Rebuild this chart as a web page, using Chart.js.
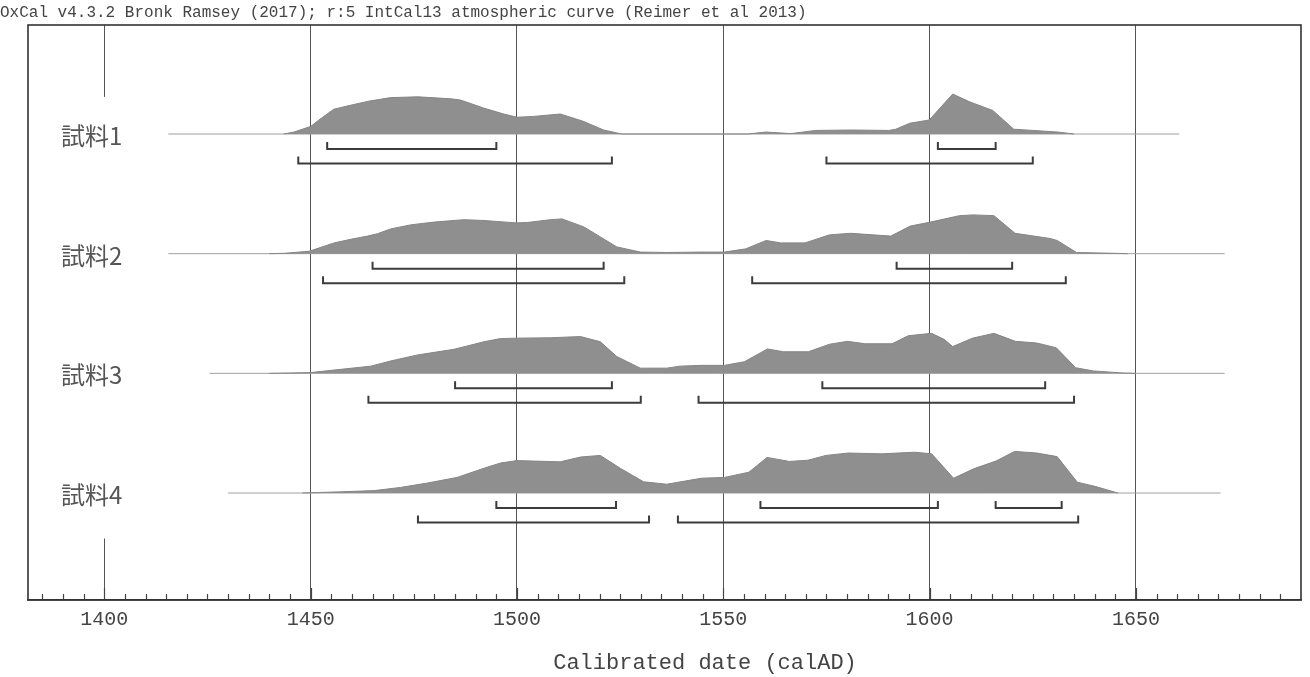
<!DOCTYPE html>
<html><head><meta charset="utf-8">
<script src="https://cdn.jsdelivr.net/npm/chart.js@4.4.0/dist/chart.umd.min.js"></script>
<style>html,body{margin:0;padding:0;background:#fff;}</style>
</head><body>
<canvas id="c" width="1310" height="677"></canvas>
<script>
// ---- data ----
const headerText = "OxCal v4.3.2 Bronk Ramsey (2017); r:5 IntCal13 atmospheric curve (Reimer et al 2013)";
const axisTitle = "Calibrated date (calAD)";
const sampleNames = ["試料1", "試料2", "試料3", "試料4"];
const tickLabels = [1400, 1450, 1500, 1550, 1600, 1650];

// extent of each thin baseline (calAD)
const span1 = [1415.5, 1660.5];
const span2 = [1415.5, 1671.5];
const span3 = [1425.5, 1671.5];
const span4 = [1430.0, 1670.5];

// relative probability [calAD, p]
const density1 = [[1443.5,0],[1446,0.05],[1450,0.19],[1452,0.35],[1455.6,0.62],[1459.7,0.72],[1464,0.82],[1469.4,0.91],[1476,0.93],[1484,0.88],[1486.3,0.85],[1491.9,0.65],[1496.8,0.5],[1500,0.42],[1504,0.44],[1510.5,0.5],[1516,0.32],[1521,0.1],[1525.4,0],[1556,0],[1560.3,0.05],[1566.4,0.01],[1572.4,0.09],[1580.9,0.1],[1590.1,0.09],[1591.8,0.12],[1595.2,0.27],[1599.9,0.35],[1605.6,1.0],[1609.8,0.8],[1615.3,0.59],[1620.4,0.12],[1625,0.09],[1631,0.05],[1635,0]];
const density2 = [[1440,0],[1443.6,0.01],[1449.6,0.06],[1455.7,0.27],[1459.7,0.36],[1463.8,0.44],[1466.2,0.5],[1469.4,0.62],[1474.2,0.72],[1479.9,0.79],[1487.1,0.85],[1492,0.83],[1499.8,0.77],[1502.5,0.78],[1508.1,0.85],[1510.9,0.87],[1516.2,0.67],[1520.2,0.42],[1524.2,0.17],[1529.9,0.04],[1536.3,0.03],[1544.4,0.04],[1550.2,0.04],[1555.4,0.12],[1560.4,0.33],[1563.9,0.27],[1569.8,0.27],[1575.7,0.47],[1580.8,0.51],[1590.6,0.44],[1595.3,0.69],[1600.2,0.79],[1607.2,0.95],[1610.5,0.97],[1615.6,0.95],[1620.7,0.51],[1629.2,0.38],[1630.9,0.33],[1635.6,0.03],[1644.5,0.01],[1648,0]];
const density3 = [[1440,0],[1445.2,0.01],[1450,0.02],[1457.3,0.1],[1464.6,0.18],[1469.4,0.31],[1475.9,0.46],[1484.7,0.6],[1492,0.79],[1496,0.87],[1500,0.88],[1508.1,0.89],[1515.4,0.92],[1520.2,0.79],[1524.2,0.42],[1529.9,0.13],[1536.3,0.13],[1539.5,0.18],[1544.7,0.2],[1550.3,0.2],[1555.1,0.29],[1560.7,0.61],[1564.6,0.54],[1570.6,0.54],[1575.8,0.73],[1580.1,0.8],[1584.4,0.74],[1590.9,0.74],[1594.8,0.94],[1600.5,1.0],[1603.5,0.85],[1605.6,0.67],[1610.4,0.88],[1615.6,1.0],[1620.8,0.8],[1625.9,0.76],[1630.7,0.64],[1635.4,0.14],[1639.7,0.06],[1646.6,0.01],[1650,0]];
const density4 = [[1448,0],[1457.3,0.03],[1465.4,0.06],[1471.8,0.14],[1478.3,0.25],[1485.5,0.39],[1492,0.62],[1496,0.75],[1500,0.81],[1510.5,0.78],[1515.4,0.9],[1520.2,0.94],[1525,0.62],[1530.7,0.28],[1536.3,0.22],[1544.7,0.37],[1550.3,0.39],[1556.2,0.52],[1560.6,0.89],[1566,0.79],[1570.5,0.82],[1574.9,0.94],[1580.3,1.0],[1588.4,0.98],[1596.4,1.02],[1600.5,0.98],[1605.8,0.37],[1610.8,0.61],[1616.1,0.8],[1620.6,1.04],[1626,1.0],[1630.9,0.91],[1635.8,0.27],[1640.3,0.16],[1645.6,0]];

// 68.2% and 95.4% ranges (calAD)
const range68_1 = [[1454,1495],[1602,1616]];
const range95_1 = [[1447,1523],[1575,1625]];
const range68_2 = [[1465,1521],[1592,1620]];
const range95_2 = [[1453,1526],[1557,1633]];
const range68_3 = [[1485,1523],[1574,1628]];
const range95_3 = [[1464,1530],[1544,1635]];
const range68_4 = [[1495,1524],[1559,1602],[1616,1632]];
const range95_4 = [[1476,1532],[1539,1636]];

// ---- build chart ----
const spans = [span1, span2, span3, span4];
const densities = [density1, density2, density3, density4];
const r68 = [range68_1, range68_2, range68_3, range68_4];
const r95 = [range95_1, range95_2, range95_3, range95_4];

const ROW_SPACING_PX = 119.67;
const rowValue = i => 4 - i;             // row 1 at top
const HEIGHT = 40 / ROW_SPACING_PX;       // p = 1 -> 40 px
const OFF68 = -15 / ROW_SPACING_PX;
const OFF95 = -29.5 / ROW_SPACING_PX;
const TICKH = 7 / ROW_SPACING_PX;

const datasets = [];
for (let i = 0; i < 4; i++) {
  const b = rowValue(i);
  datasets.push({
    data: spans[i].map(x => ({x, y: b})),
    showLine: true, borderColor: '#a0a0a0', borderWidth: 1, pointRadius: 0, order: 3, fill: false
  });
  datasets.push({
    data: densities[i].map(([x, p]) => ({x, y: b + p * HEIGHT})),
    showLine: true, borderColor: '#858585', borderWidth: 1, backgroundColor: '#8f8f8f',
    pointRadius: 0, order: 2, fill: {value: b}, tension: 0
  });
  const addBr = (rng, off) => rng.forEach(([s, e]) => {
    const y0 = b + off;
    datasets.push({
      data: [{x: s, y: y0 + TICKH}, {x: s, y: y0}, {x: e, y: y0}, {x: e, y: y0 + TICKH}],
      showLine: true, borderColor: '#3c3c3c', borderWidth: 2, pointRadius: 0, order: 1, fill: false,
      borderJoinStyle: 'miter', borderCapStyle: 'butt'
    });
  });
  addBr(r68[i], OFF68);
  addBr(r95[i], OFF95);
}

const deco = {
  id: 'deco',
  afterDraw(chart) {
    const {ctx, chartArea: a, scales: {x, y}} = chart;
    ctx.save();
    // partial 1400 line
    ctx.strokeStyle = '#555'; ctx.lineWidth = 1;
    const px1400 = Math.round(x.getPixelForValue(tickLabels[0])) + 0.5;
    ctx.beginPath();
    ctx.moveTo(px1400, a.top); ctx.lineTo(px1400, y.getPixelForValue(4.31));
    ctx.moveTo(px1400, y.getPixelForValue(0.62)); ctx.lineTo(px1400, a.bottom);
    ctx.stroke();
    // inward ticks
    ctx.strokeStyle = '#444'; ctx.lineWidth = 1.2;
    ctx.beginPath();
    for (let v = 1385; v < x.max; v += 5) {
      const px = Math.round(x.getPixelForValue(v)) + 0.5;
      const len = v % 50 === 0 ? 12 : 6;
      ctx.moveTo(px, a.bottom); ctx.lineTo(px, a.bottom - len);
    }
    ctx.stroke();
    // frame
    ctx.strokeStyle = '#333'; ctx.lineWidth = 1.6;
    ctx.strokeRect(a.left, a.top, a.right - a.left, a.bottom - a.top);
    // sample labels
    ctx.fillStyle = '#555';
    ctx.font = '24px "Noto Sans CJK JP"';
    ctx.textBaseline = 'middle'; ctx.textAlign = 'left';
    sampleNames.forEach((n, i) => ctx.fillText(n, 61, y.getPixelForValue(rowValue(i)) + 2));
    // header
    ctx.fillStyle = '#444';
    ctx.font = '16px "Liberation Mono"';
    ctx.fillText(headerText, 0, 13);
    // axis title
    ctx.font = '22px "Liberation Mono"';
    ctx.textAlign = 'center';
    ctx.fillText(axisTitle, 705, 663);
    ctx.restore();
  }
};

new Chart(document.getElementById('c'), {
  type: 'scatter',
  data: {datasets},
  options: {
    responsive: false, animation: false, devicePixelRatio: 1,
    layout: {padding: {left: 28, right: 9, top: 25, bottom: 37}},
    plugins: {legend: {display: false}, tooltip: {enabled: false}},
    scales: {
      x: {
        type: 'linear', min: 1381.5, max: 1690,
        ticks: {
          stepSize: 5, autoSkip: false, maxRotation: 0, minRotation: 0, includeBounds: false,
          callback: v => tickLabels.includes(v) ? String(v) : '',
          font: {family: 'Liberation Mono', size: 20}, color: '#444', padding: 8
        },
        grid: {
          color: c => (c.tick && c.tick.value % 50 === 0 && c.tick.value !== tickLabels[0]) ? '#555' : 'rgba(0,0,0,0)',
          lineWidth: 1, drawTicks: false
        },
        border: {display: true, color: '#333', width: 1.6}
      },
      y: {type: 'linear', min: 0.106, max: 4.911, display: false}
    }
  },
  plugins: [deco]
});
</script>
</body></html>
